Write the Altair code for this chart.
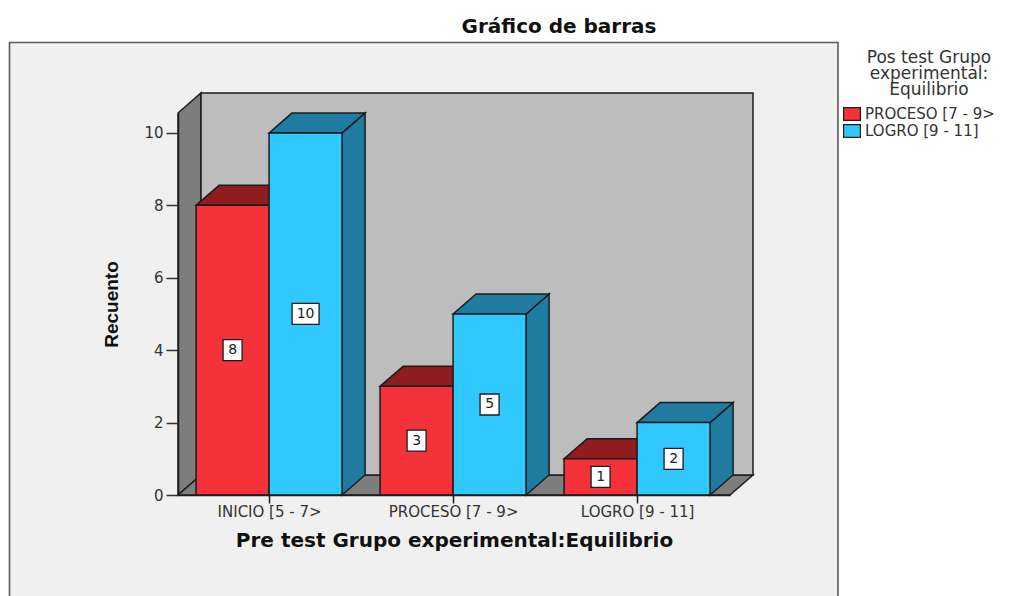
import altair as alt
import pandas as pd

categories = ["INICIO [5 - 7>", "PROCESO [7 - 9>", "LOGRO  [9 - 11]"]
series_names = ["PROCESO [7 - 9>", "LOGRO  [9 - 11]"]
proceso_values = [8, 3, 1]
logro_values = [10, 5, 2]
legend_title_lines = ["Pos test Grupo", "experimental:", "Equilibrio"]
colors_front = ["#f4323a", "#30c8ff"]
colors_dark = ["#8f1d20", "#1f7ca0"]

PW, PH = 552, 382
Y_TOP = 10.55
X_MAX = 3.0
DX = 23 / PW * X_MAX      # depth along x, in scale units
DY = 20 / PH * Y_TOP      # depth along y, in scale units
BW = 73 / PW * X_MAX      # bar width in scale units

xs = alt.Scale(domain=[0, X_MAX], nice=False, zero=False)
ys = alt.Scale(domain=[0, Y_TOP], nice=False, zero=False)
STROKE = "#1c1c1c"
XT = "Pre test Grupo experimental:Equilibrio"
YT = "Recuento"

x_axis = alt.Axis(
    values=[0.495, 1.495, 2.495],
    labelExpr="datum.value < 1 ? '%s' : datum.value < 2 ? '%s' : '%s'" % tuple(categories),
    labelFont="DejaVu Sans", labelFontSize=15, labelColor="#333333", labelPadding=1,
    tickSize=8, tickColor=STROKE, tickWidth=1.5, domainColor=STROKE, domainWidth=1.5,
    titleFont="DejaVu Sans", titleFontSize=20, titleFontWeight="bold", titleColor="#111111",
    titlePadding=11, grid=False, zindex=1,
)
y_axis = alt.Axis(
    values=[0, 2, 4, 6, 8, 10], tickSize=12, tickColor="#333333", tickWidth=1.5,
    domainColor=STROKE, domainWidth=1.5, labelFont="DejaVu Sans", labelFontSize=15,
    labelColor="#333333", labelPadding=3, titleFont="Liberation Sans",
    titleFontSize=19, titleFontWeight="bold", titleColor="#111111", titlePadding=22,
    grid=False, zindex=1,
)


def X(f):
    return alt.X(f, scale=xs, title=XT, axis=x_axis)


def Y(f):
    return alt.Y(f, scale=ys, title=YT, axis=y_axis)


bars, sides, tops, boxes = [], [], [], []
for ci, cat in enumerate(categories):
    mid = ci + 0.495
    for si, vals in enumerate([proceso_values, logro_values]):
        v = vals[ci]
        L = mid - BW + si * BW
        R = L + BW
        fid = f"{ci}-{si}"
        bars.append(dict(L=L, R=R, v=v, s=series_names[si], cat=cat))
        sides.append(dict(f=fid, x=R, a=0, b=v, c=colors_dark[si]))
        sides.append(dict(f=fid, x=R + DX, a=DY, b=v + DY, c=colors_dark[si]))
        tops.append(dict(f=fid, y=v, a=L, b=R, c=colors_dark[si]))
        tops.append(dict(f=fid, y=v + DY, a=L + DX, b=R + DX, c=colors_dark[si]))
        hw = (13.5 if v >= 10 else 9.5) / PW * X_MAX
        hh = 10.5 / PH * Y_TOP
        cx = (L + R) / 2
        boxes.append(dict(x=cx - hw, x2=cx + hw, y=v / 2 - hh, y2=v / 2 + hh, cx=cx, cy=v / 2, t=str(v)))

bars, sides, tops, boxes = map(pd.DataFrame, (bars, sides, tops, boxes))

panel = alt.Chart(pd.DataFrame({"k": [0]})).mark_rect(
    fill="#f0f0f0", stroke="#5a5a5a", strokeWidth=1.6
).encode(x=alt.value(9.5 - 178), x2=alt.value(838 - 178), y=alt.value(42.5 - 113), y2=alt.value(640 - 113))

left_wall = alt.Chart(pd.DataFrame(dict(x=[0, DX], a=[0, DY], b=[Y_TOP, Y_TOP + DY]))).mark_area(
    orient="vertical", fill="#7d7d7d", stroke=STROKE, strokeWidth=1.5
).encode(x=X("x:Q"), y=Y("a:Q"), y2="b:Q")
floor = alt.Chart(pd.DataFrame(dict(y=[0, DY], a=[0, DX], b=[X_MAX, X_MAX + DX]))).mark_area(
    orient="horizontal", fill="#7d7d7d", stroke=STROKE, strokeWidth=1.5
).encode(y=Y("y:Q"), x=X("a:Q"), x2="b:Q")
back_wall = alt.Chart(pd.DataFrame(dict(a=[DX], b=[X_MAX + DX], c=[DY], d=[Y_TOP + DY]))).mark_rect(
    fill="#bdbdbd", stroke=STROKE, strokeWidth=1.5
).encode(x=X("a:Q"), x2="b:Q", y=Y("c:Q"), y2="d:Q")

side_layer = alt.Chart(sides).mark_area(orient="vertical", stroke=STROKE, strokeWidth=1.5).encode(
    x=X("x:Q"), y=Y("a:Q"), y2="b:Q", detail="f:N", fill=alt.Fill("c:N", scale=None)
)
top_layer = alt.Chart(tops).mark_area(orient="horizontal", stroke=STROKE, strokeWidth=1.5).encode(
    y=Y("y:Q"), x=X("a:Q"), x2="b:Q", detail="f:N", fill=alt.Fill("c:N", scale=None)
)

front = alt.Chart(bars).mark_rect(stroke=STROKE, strokeWidth=1.5).encode(
    x=X("L:Q"), x2="R:Q", y=Y("v:Q"), y2=alt.datum(0),
    fill=alt.Fill(
        "s:N", scale=alt.Scale(domain=series_names, range=colors_front),
        legend=alt.Legend(
            title=None, orient="none", legendX=666, legendY=-7,
            labelFont="DejaVu Sans", labelFontSize=15, labelColor="#333333", labelOffset=5,
            symbolType="M-1.2,-0.9H1.2V0.9H-1.2Z", symbolSize=196, symbolStrokeColor=STROKE,
            symbolStrokeWidth=1.2, rowPadding=-2, labelLimit=200,
        ),
    ),
)

box_layer = alt.Chart(boxes).mark_rect(fill="#ffffff", stroke=STROKE, strokeWidth=1.3).encode(
    x=X("x:Q"), x2="x2:Q", y=Y("y:Q"), y2="y2:Q"
)
text_layer = alt.Chart(boxes).mark_text(font="DejaVu Sans", fontSize=14, color="#222222").encode(
    x=X("cx:Q"), y=Y("cy:Q"), text="t:N"
)

legend_title = [
    alt.Chart(pd.DataFrame({"t": [line]})).mark_text(
        font="DejaVu Sans", fontSize=17, color="#333333", align="center", baseline="alphabetic"
    ).encode(x=alt.value(929 - 178), y=alt.value(63 - 113 + i * 16), text="t:N")
    for i, line in enumerate(legend_title_lines)
]

chart = alt.layer(
    panel, left_wall, floor, back_wall, side_layer, top_layer, front, box_layer, text_layer, *legend_title
).properties(
    width=PW, height=PH,
    title=alt.TitleParams(
        "Gráfico de barras", font="DejaVu Sans", fontSize=20, fontWeight="bold", color="#111111",
        anchor="middle", dx=105, offset=5,
    ),
    padding={"left": 170, "top": 105, "right": 274, "bottom": 101},
    autosize=alt.AutoSizeParams(type="none"),
    background="#ffffff",
).configure_view(stroke=None)

chart.save("out.html", embed_options={"renderer": "svg", "actions": False})
